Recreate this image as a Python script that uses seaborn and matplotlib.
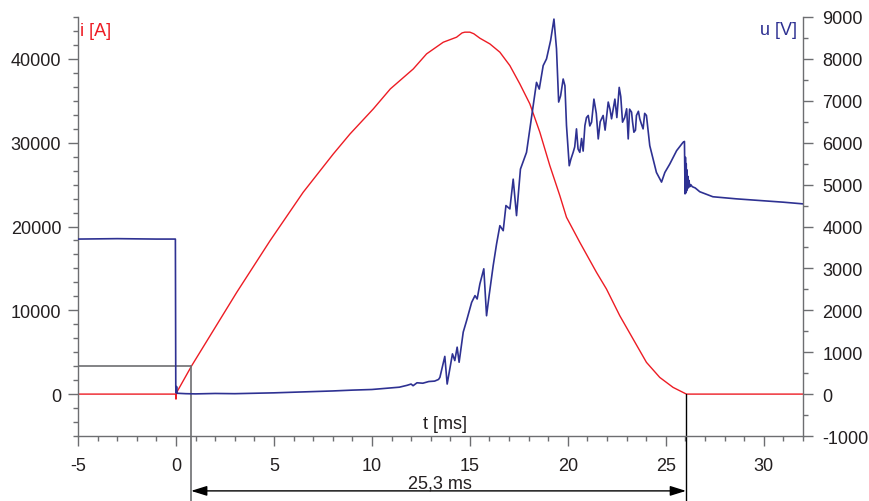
import numpy as np
import pandas as pd
import matplotlib
matplotlib.use("Agg")
import matplotlib.pyplot as plt
from matplotlib.ticker import MultipleLocator
import seaborn as sns

# current i [A] vs time [ms]
t_i = [-5.0, -0.02, 0.0, 0.02, 0.036, 0.80, 3.10, 4.80, 6.49, 8.03, 8.88, 10.07, 10.94,
       12.11, 12.79, 13.64, 14.32, 14.6, 14.74, 15.0, 15.2, 15.51, 16.02, 16.53, 17.04,
       17.55, 18.06, 18.57, 19.08, 19.59, 19.93, 20.61, 21.46, 21.97, 22.65, 23.33, 24.01,
       24.69, 25.37, 25.88, 26.05, 32.0]
i_vals = [0, 0, -600, 0, 200, 3380, 12140, 18300, 24080, 28660, 31040, 34030, 36420,
          38800, 40600, 41990, 42590, 43100, 43190, 43190, 43000, 42470, 41790, 40800, 39200,
          37010, 34630, 31250, 27260, 23680, 21100, 18110, 14530, 12540, 9350, 6570, 3790,
          1990, 800, 200, 0, 0]

# voltage u [V] vs time [ms]
t_u = [-5.0, -3.0, -1.0, -0.03, -0.01, 0.0, 0.03, 0.06, 0.5, 1.0, 2.0, 3.0, 4.0, 5.0,
       6.0, 7.0, 8.0, 9.0, 10.0, 10.8, 11.4, 11.8, 12.0, 12.1, 12.3, 12.6, 12.9, 13.2,
       13.4, 13.47, 13.72, 13.84, 14.11, 14.23, 14.35, 14.45, 14.66, 14.83, 15.09, 15.26,
       15.37, 15.51, 15.71, 15.85, 15.98, 16.19, 16.36, 16.53, 16.70, 16.84, 17.04, 17.21,
       17.38, 17.58, 17.89, 18.06, 18.23, 18.40, 18.54, 18.74, 18.91, 19.12, 19.29, 19.42,
       19.53, 19.63, 19.76, 19.85, 19.93, 20.07, 20.15, 20.27, 20.35, 20.44, 20.52, 20.61,
       20.70, 20.78, 20.87, 20.95, 21.04, 21.12, 21.21, 21.33, 21.45, 21.55, 21.65, 21.80,
       21.90, 22.06, 22.15, 22.23, 22.40, 22.50, 22.62, 22.70, 22.79, 22.90, 23.00, 23.08,
       23.15, 23.25, 23.30, 23.37, 23.45, 23.50, 23.60, 23.67, 23.75, 23.84, 23.92, 24.01,
       24.18, 24.35, 24.52, 24.78, 24.95, 25.20, 25.55, 25.88, 25.95, 25.98, 26.00, 26.02,
       26.04, 26.06, 26.08, 26.10, 26.12, 26.15, 26.18, 26.22, 26.27, 26.35, 26.50, 26.73,
       27.4, 28.6, 29.8, 31.0, 32.0]
u_vals = [3700, 3710, 3700, 3700, 200, 30, 180, 20, 10, 5, 15, 10, 20, 30,
          45, 60, 75, 95, 110, 140, 165, 210, 240, 200, 270, 260, 300, 310,
          350, 400, 900, 240, 960, 800, 1120, 760, 1480, 1750, 2190, 2350,
          2270, 2630, 2990, 1870, 2350, 3070, 3580, 4020, 3900, 4500, 4420, 5130,
          4260, 5370, 5770, 6330, 6880, 7440, 7280, 7840, 8000, 8440, 8950, 8240,
          6970, 7120, 7520, 7360, 6410, 5450, 5600, 5770, 5900, 6330, 5850, 5770,
          6100, 5800, 6410, 6600, 6650, 6400, 6490, 7040, 6700, 6090, 6500, 6650,
          6300, 6970, 6800, 6570, 7040, 6600, 7320, 7100, 6490, 6600, 6810, 6090,
          6800, 6730, 6500, 6250, 6300, 6650, 6750, 6570, 6450, 6330, 6700, 6650,
          5930, 5610, 5290, 5060, 5290, 5490, 5810, 6010, 6030, 4780, 5650, 4800,
          5500, 4850, 5350, 4900, 5200, 4930, 5100, 4950, 5000, 4950, 4920, 4830,
          4710, 4660, 4620, 4580, 4540]

t_start, t_end = 0.77, 26.03
i_mark = 3343

df_i = pd.DataFrame({"t": t_i, "i": i_vals})
df_u = pd.DataFrame({"t": t_u, "u": u_vals})

sns.set_style("ticks")
plt.rcParams["font.family"] = ["Liberation Sans", "DejaVu Sans"]
plt.rcParams["axes.unicode_minus"] = False

red = "#ed1c24"
blue = "#2e3192"
grey = "#6d6e71"
txt = "#231f20"
fs = 13

fig = plt.figure(figsize=(8.69, 5.02), dpi=100)
ax = fig.add_axes([78 / 869, 1 - 437 / 502, (803 - 78) / 869, (437 - 18) / 502])
ax2 = ax.twinx()

sns.lineplot(data=df_i, x="t", y="i", ax=ax, color=red, lw=1.0,
             estimator=None, sort=False)
sns.lineplot(data=df_u, x="t", y="u", ax=ax2, color=blue, lw=1.2,
             estimator=None, sort=False)

ax.set_xlim(-5, 32)
ax.set_ylim(-5000, 45000)
ax2.set_ylim(-1000, 9000)
ax.set_xlabel("")
ax.set_ylabel("")
ax2.set_ylabel("")

for a in (ax, ax2):
    a.spines["top"].set_visible(False)
    for s in a.spines.values():
        s.set_color(grey)
        s.set_linewidth(1.0)
ax.spines["right"].set_visible(False)
ax2.spines["left"].set_visible(False)
ax2.spines["bottom"].set_visible(False)

ax.xaxis.set_major_locator(MultipleLocator(5))
ax.xaxis.set_minor_locator(MultipleLocator(1))
ax.yaxis.set_major_locator(MultipleLocator(10000))
ax.yaxis.set_minor_locator(MultipleLocator(10000 / 6))
ax2.yaxis.set_major_locator(MultipleLocator(1000))
ax2.yaxis.set_minor_locator(MultipleLocator(500))

ax.tick_params(axis="x", which="major", length=7, width=1, color=grey,
               labelsize=fs, labelcolor=txt, pad=8)
ax.tick_params(axis="x", which="minor", length=3.5, width=1, color=grey)
ax.tick_params(axis="y", which="major", length=7, width=1, color=grey,
               labelsize=fs, labelcolor=txt, pad=5)
ax.tick_params(axis="y", which="minor", length=3.5, width=1, color=grey)
ax2.tick_params(axis="y", which="major", length=7, width=1, color=grey,
                labelsize=fs, labelcolor=txt, pad=7)
ax2.tick_params(axis="y", which="minor", length=3.5, width=1, color=grey)

# marker lines for the 25,3 ms interval
ax.plot([-5, t_start], [i_mark, i_mark], color=grey, lw=1.2)
ax.plot([t_start, t_start], [i_mark, -12800], color=grey, lw=1.2, clip_on=False)
ax.plot([t_end, t_end], [0, -12800], color="black", lw=1.0, clip_on=False)

tr = ax.get_xaxis_transform()
ax.annotate("", xy=(t_start, -0.131), xycoords=tr, xytext=(t_end, -0.131), textcoords=tr,
            arrowprops=dict(arrowstyle="<|-|>,head_length=0.8,head_width=0.25",
                            color="black", lw=1.0, mutation_scale=12,
                            shrinkA=0, shrinkB=0))
ax.text(13.47, -0.111, "25,3 ms", transform=tr, ha="center", va="center",
        fontsize=fs, color=txt)
ax.text(13.72, 0.029, "t [ms]", transform=tr, ha="center", va="center",
        fontsize=fs, color=txt)

ax.text(-4.9, 0.967, "i [A]", transform=tr, ha="left", va="center",
        fontsize=fs, color=red)
ax.text(31.68, 0.969, "u [V]", transform=tr, ha="right", va="center",
        fontsize=fs, color=blue)

plt.savefig("out.png", dpi=100)
